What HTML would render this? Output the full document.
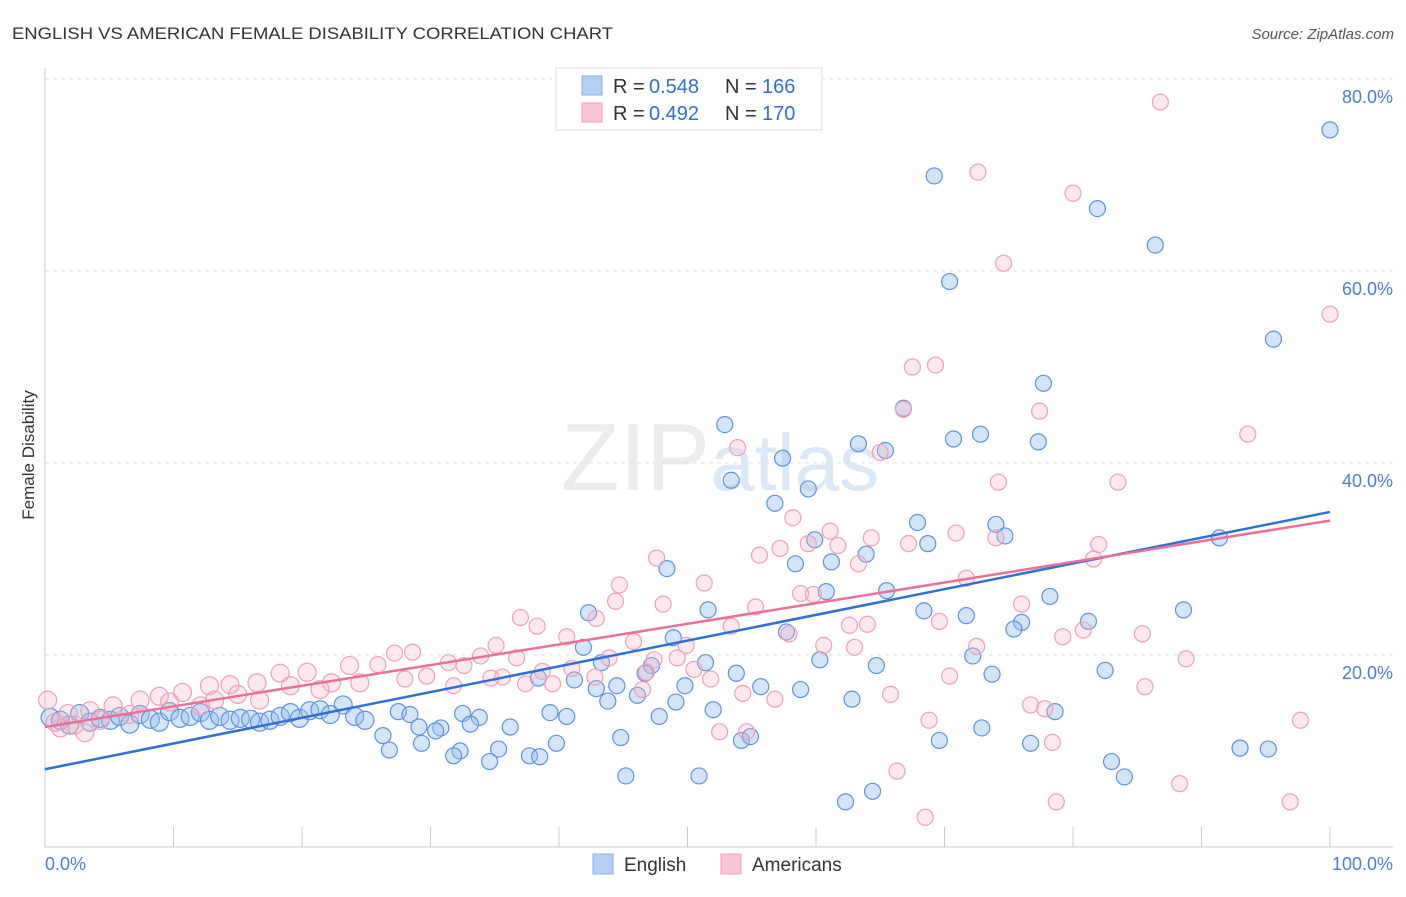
<!DOCTYPE html>
<html><head><meta charset="utf-8"><style>
body{margin:0;background:#fff;font-family:"Liberation Sans",sans-serif}
svg text{font-family:"Liberation Sans",sans-serif}
</style></head><body>
<svg id="c" width="1406" height="892" xmlns="http://www.w3.org/2000/svg">
<text x="12" y="39" font-size="17" fill="#333" textLength="601" lengthAdjust="spacingAndGlyphs">ENGLISH VS AMERICAN FEMALE DISABILITY CORRELATION CHART</text>
<text x="1394" y="39" font-size="15" fill="#555" font-style="italic" text-anchor="end">Source: ZipAtlas.com</text>
<text x="720" y="490" font-size="96" fill="#ececec" text-anchor="middle" font-family="Liberation Serif">ZIP<tspan fill="#dde8f6" font-family="Liberation Sans" font-size="80">atlas</tspan></text>
<g id="grid"></g><g id="pts"></g><g id="lines"></g>
<text x="34" y="455" font-size="17" fill="#333" transform="rotate(-90 34 455)" text-anchor="middle">Female Disability</text>
<g>
<rect x="556" y="68" width="266" height="62" fill="#fff" stroke="#ddd"/>
<rect x="582" y="76" width="20" height="19" fill="#b5d0f5" stroke="#8ab2ea"/>
<rect x="582" y="103" width="20" height="19" fill="#fcc5d5" stroke="#f2a2bb"/>
<text x="613" y="93" font-size="20" fill="#333">R =</text><text x="649" y="93" font-size="20" fill="#2f6fd6">0.548</text>
<text x="725" y="93" font-size="20" fill="#333">N =</text><text x="762" y="93" font-size="20" fill="#2f6fd6">166</text>
<text x="613" y="120" font-size="20" fill="#333">R =</text><text x="649" y="120" font-size="20" fill="#2f6fd6">0.492</text>
<text x="725" y="120" font-size="20" fill="#333">N =</text><text x="762" y="120" font-size="20" fill="#2f6fd6">170</text>
</g>
<g>
<rect x="593" y="854" width="20" height="20" fill="#b5d0f5" stroke="#8ab2ea"/>
<text x="624" y="871" font-size="19" fill="#333">English</text>
<rect x="721" y="854" width="20" height="20" fill="#fcc5d5" stroke="#f2a2bb"/>
<text x="752" y="871" font-size="19" fill="#333">Americans</text>
</g>
</svg>
<script>
const blueX=[100,69.2,81.9,86.4,70.4,95.6,77.7,66.8,52.9,72.8,70.7,77.3,63.3,65.4,57.4,53.4,59.4,56.8,67.9,74.0,74.7,91.4,59.9,68.7,63.9,61.2,58.4,48.4,60.8,65.5,78.2,42.3,51.6,68.4,71.7,88.6,81.2,76.0,75.4,57.7,48.9,41.9,72.2,60.3,43.3,47.2,64.7,51.4,82.5,46.7,53.8,73.7,38.4,41.2,44.5,42.9,49.8,55.7,58.8,46.1,49.1,43.8,62.8,78.6,52.0,39.3,47.8,40.6,23.2,27.5,28.4,32.5,33.8,36.2,29.1,30.8,26.3,33.1,30.4,44.8,54.2,54.9,39.8,69.6,76.7,72.9,29.3,32.3,35.3,26.8,34.6,31.8,37.7,38.5,93.0,95.2,83.0,45.2,50.9,84.0,64.4,62.3,0.4,1.2,1.9,2.7,3.5,4.3,5.1,5.8,6.6,7.4,8.2,8.9,9.7,10.5,11.3,12.1,12.8,13.6,14.4,15.2,16.0,16.7,17.5,18.3,19.1,19.8,20.6,21.4,22.2,24.1,24.9];
const blueY=[74.7,69.9,66.5,62.7,58.9,52.9,48.3,45.7,44.0,43.0,42.5,42.2,42.0,41.3,40.5,38.2,37.3,35.8,33.8,33.6,32.4,32.2,32.0,31.6,30.5,29.7,29.5,29.0,26.6,26.7,26.1,24.4,24.7,24.6,24.1,24.7,23.5,23.4,22.7,22.4,21.8,20.8,19.9,19.5,19.2,18.9,18.9,19.2,18.4,18.1,18.1,18.0,17.6,17.4,16.8,16.5,16.8,16.7,16.4,15.8,15.1,15.2,15.4,14.1,14.3,14.0,13.6,13.6,14.8,14.1,13.8,13.9,13.5,12.5,12.5,12.4,11.6,12.8,12.1,11.4,11.1,11.5,10.8,11.1,10.8,12.4,10.8,10.0,10.2,10.1,8.9,9.5,9.5,9.4,10.3,10.2,8.9,7.4,7.4,7.3,5.8,4.7,13.5,13.2,12.7,13.9,13.0,13.4,13.2,13.6,12.8,13.8,13.3,13.0,14.1,13.4,13.6,14.0,13.2,13.6,13.2,13.4,13.3,13.0,13.2,13.6,14.0,13.4,14.2,14.3,13.8,13.6,13.2];
const pinkX=[86.8,72.6,80.0,74.6,100,67.5,69.3,66.8,77.4,93.6,53.9,65.0,83.5,74.2,58.2,61.1,64.3,70.9,57.2,61.7,59.4,55.6,47.6,67.2,74.0,82.0,81.6,63.3,44.7,71.7,51.3,58.8,44.4,76.0,48.1,59.8,55.3,69.6,62.6,37.0,42.9,38.3,53.4,64.0,80.8,85.4,40.6,45.8,35.1,49.9,57.9,60.6,79.2,72.5,63.0,33.9,36.7,43.9,47.4,49.2,88.8,28.6,27.2,31.4,23.7,25.9,20.4,18.3,41.0,46.8,42.8,50.5,70.4,32.6,38.7,35.6,29.7,28.0,22.3,24.5,16.5,14.4,12.8,10.7,8.9,7.4,5.3,3.5,1.8,0.2,34.7,31.8,37.4,39.5,51.8,54.3,46.5,56.8,21.4,19.1,15.0,13.2,9.7,85.6,65.8,76.7,77.8,68.8,97.7,52.5,54.6,78.4,66.3,88.3,78.7,96.9,68.5,16.7,12.1,6.6,4.3,2.3,1.2,3.1,0.8];
const pinkY=[77.6,70.3,68.1,60.8,55.5,50.0,50.2,45.6,45.4,43.0,41.6,41.1,38.0,38.0,34.3,32.9,32.2,32.7,31.1,31.4,31.6,30.4,30.1,31.6,32.2,31.5,30.0,29.5,27.3,28.0,27.5,26.4,25.6,25.3,25.3,26.3,25.0,23.5,23.1,23.9,23.8,23.0,23.0,23.2,22.6,22.2,21.9,21.4,21.0,21.0,22.2,21.0,21.9,20.9,20.8,19.9,19.7,19.7,19.5,19.7,19.6,20.3,20.2,19.2,18.9,19.0,18.2,18.1,18.6,18.2,17.7,18.5,17.8,18.9,18.3,17.7,17.8,17.5,17.1,17.1,17.1,16.9,16.8,16.1,15.7,15.3,14.7,14.2,13.9,15.3,17.6,16.8,17.0,17.0,17.5,16.0,16.4,15.4,16.4,16.8,15.9,15.3,15.1,16.7,15.9,14.8,14.4,13.2,13.2,12.0,12.0,10.9,7.9,6.6,4.7,4.7,3.1,15.3,14.7,13.8,13.2,12.7,12.4,11.9,13.0];
const blueLine=[8.1,34.9];
const pinkLine=[12.5,34.0];
const yTicks=[20,40,60,80];
const xTicks=[0,10,20,30,40,50,60,70,80,90,100];
const NS='http://www.w3.org/2000/svg';
const sx=v=>45+v*12.85, sy=v=>847-v*9.6;
function mk(t,a,p){const e=document.createElementNS(NS,t);for(const k in a)e.setAttribute(k,a[k]);p.appendChild(e);return e;}
const g=document.getElementById('grid');
for(const t of yTicks){
 const l=mk('line',{x1:45,x2:1393,y1:sy(t),y2:sy(t),stroke:'#e2e2e2','stroke-dasharray':'4 4'},g);
 
 
 const tx=mk('text',{x:1393,y:sy(t)+24,'font-size':18,fill:'#4a7fd4','text-anchor':'end'},g);tx.textContent=t.toFixed(1)+'%';
 
 
}
mk('line',{x1:45,x2:45,y1:68,y2:847,stroke:'#ccc'},g);
mk('line',{x1:45,x2:1393,y1:847,y2:847,stroke:'#ccc'},g);
for(const t of xTicks){const l=mk('line',{x1:sx(t),x2:sx(t),y1:827,y2:847,stroke:'#ccc'},g);
 
 }
const a=mk('text',{x:45,y:870,'font-size':18,fill:'#4a7fd4'},g);a.textContent=xTicks[0].toFixed(1)+'%';


const b=mk('text',{x:1393,y:870,'font-size':18,fill:'#4a7fd4','text-anchor':'end'},g);b.textContent=xTicks[10].toFixed(1)+'%';


const p=document.getElementById('pts');
blueX.forEach((x,i)=>{const c=mk('circle',{cx:sx(x),cy:sy(blueY[i]),r:x<25?9:8,fill:'rgba(150,190,240,0.4)',stroke:'#5d93dc','stroke-width':1.2},p);
 
 });
pinkX.forEach((x,i)=>{const c=mk('circle',{cx:sx(x),cy:sy(pinkY[i]),r:x<25?9:8,fill:'rgba(248,180,200,0.3)',stroke:'#f0a0b8','stroke-width':1.2},p);
 
 });
const L=document.getElementById('lines');
const bl=mk('line',{x1:sx(0),y1:sy(blueLine[0]),x2:sx(100),y2:sy(blueLine[1]),stroke:'#2f6fd6','stroke-width':2.5},L);


const pl=mk('line',{x1:sx(0),y1:sy(pinkLine[0]),x2:sx(100),y2:sy(pinkLine[1]),stroke:'#e87099','stroke-width':2.5},L);


</script>
</body></html>
